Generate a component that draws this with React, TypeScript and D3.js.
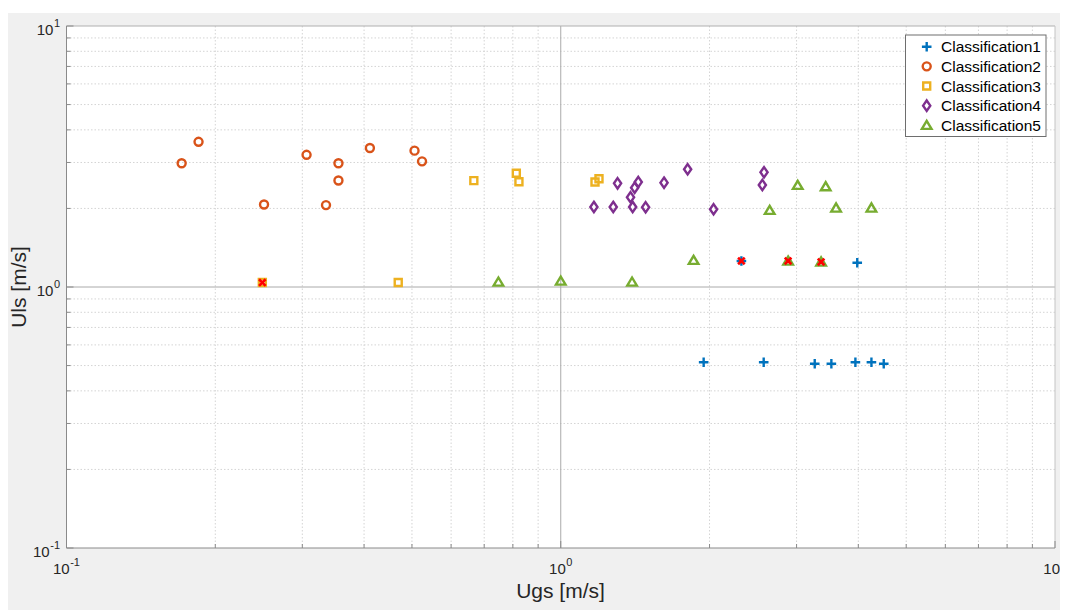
import React from "react";
import * as d3 from "d3";

// Gas / liquid superficial velocities per flow-pattern class
const class1Ugs = [2.32, 3.98, 1.946, 2.574, 3.265, 3.528, 3.946, 4.252, 4.503];
const class1Uls = [1.258, 1.239, 0.515, 0.515, 0.508, 0.508, 0.515, 0.515, 0.508];

const class2Ugs = [0.171, 0.185, 0.251, 0.306, 0.355, 0.355, 0.335, 0.411, 0.506, 0.524];
const class2Uls = [2.98, 3.6, 2.07, 3.21, 2.98, 2.56, 2.06, 3.41, 3.33, 3.03];

const class3Ugs = [0.249, 0.469, 0.667, 0.813, 0.823, 1.173, 1.195];
const class3Uls = [1.04, 1.04, 2.555, 2.727, 2.532, 2.525, 2.6];

const class4Ugs = [1.303, 1.167, 1.277, 1.384, 1.398, 1.411, 1.435, 1.485, 1.618, 1.806, 2.038, 2.578, 2.558];
const class4Uls = [2.496, 2.026, 2.026, 2.207, 2.026, 2.401, 2.525, 2.02, 2.51, 2.825, 1.985, 2.751, 2.459];

const class5Ugs = [0.748, 1.0, 1.394, 1.857, 3.016, 3.436, 2.647, 3.606, 4.252, 2.884, 3.363];
const class5Uls = [1.045, 1.054, 1.045, 1.266, 2.453, 2.423, 1.967, 2.008, 2.008, 1.258, 1.247];

// Points flagged as misclassified (drawn as red crosses on top)
const flaggedUgs = [0.249, 2.32, 2.884, 3.363];
const flaggedUls = [1.04, 1.258, 1.258, 1.247];

const seriesNames = ["Classification1", "Classification2", "Classification3", "Classification4", "Classification5"];
const decadeTicks = [0.1, 1, 10];
const decadeExponents = ["-1", "0", "1"];

const colors = ["#0072BD", "#D95319", "#EDB120", "#7E2F8E", "#77AC30"];
const shapes = ["plus", "circle", "square", "diamond", "triangle"];

const LEFT = 66.5;
const RIGHT = 1055;
const TOP = 26;
const BOTTOM = 548;

const x = d3.scaleLog().domain([0.1, 10]).range([LEFT, RIGHT]);
const y = d3.scaleLog().domain([0.1, 10]).range([BOTTOM, TOP]);

const minorValues: number[] = [];
[0.1, 1].forEach((dec) => {
  for (let k = 2; k <= 9; k++) minorValues.push(dec * k);
});

const BASE_SIZE = 15;
const EXP_SIZE = 11;
const BASE_W = 2 * 0.556 * BASE_SIZE; // width of "10"
const expWidth = (e: string) => (e.startsWith("-") ? 0.333 + 0.556 * (e.length - 1) : 0.556 * e.length) * EXP_SIZE;

function markerPath(shape: string): string {
  switch (shape) {
    case "plus":
      return "M-4.8,0H4.8M0,-4.8V4.8";
    case "circle":
      return "M4,0A4,4 0 1,1 -4,0A4,4 0 1,1 4,0Z";
    case "square":
      return "M-3.5,-3.5H3.5V3.5H-3.5Z";
    case "diamond":
      return "M0,-5.2L3.6,0L0,5.2L-3.6,0Z";
    case "triangle":
      return "M0,-4.5L4.8,3.6L-4.8,3.6Z";
    case "x":
      return "M-3.3,-3.3L3.3,3.3M3.3,-3.3L-3.3,3.3";
    default:
      return "";
  }
}

function Marker({ cx, cy, shape, color }: { cx: number; cy: number; shape: string; color: string }) {
  return (
    <path
      d={markerPath(shape)}
      transform={`translate(${cx},${cy})`}
      fill="none"
      stroke={color}
      strokeWidth={2.4}
      strokeLinejoin="miter"
    />
  );
}

function PowerLabel({ left, base, exp }: { left: number; base: number; exp: string }) {
  return (
    <g fill="#262626">
      <text x={left} y={base} fontSize={BASE_SIZE}>10</text>
      <text x={left + BASE_W + 0.5} y={base - 8} fontSize={EXP_SIZE}>{exp}</text>
    </g>
  );
}

export default function App() {
  const allUgs = [class1Ugs, class2Ugs, class3Ugs, class4Ugs, class5Ugs];
  const allUls = [class1Uls, class2Uls, class3Uls, class4Uls, class5Uls];
  const font = "'Liberation Sans', Arial, Helvetica, sans-serif";

  return (
    <svg width={1060} height={602} style={{ display: "block" }} fontFamily={font}>
      <g transform="translate(-8,-8)">
        <rect x={8} y={13} width={1056} height={597} fill="#f0f0f0" />
        <rect x={LEFT} y={TOP} width={RIGHT - LEFT} height={BOTTOM - TOP} fill="#ffffff" />

        {/* minor grid */}
        {minorValues.map((v) => (
          <line key={"gx" + v} x1={x(v)} x2={x(v)} y1={TOP} y2={BOTTOM} stroke="#d4d4d4" strokeDasharray="1.5 2" />
        ))}
        {minorValues.map((v) => (
          <line key={"gy" + v} x1={LEFT} x2={RIGHT} y1={y(v)} y2={y(v)} stroke="#d4d4d4" strokeDasharray="1.5 2" />
        ))}
        {/* major grid */}
        <line x1={x(1)} x2={x(1)} y1={TOP} y2={BOTTOM} stroke="#aaaaaa" />
        <line x1={LEFT} x2={RIGHT} y1={y(1)} y2={y(1)} stroke="#aaaaaa" />

        {/* axes box */}
        <line x1={LEFT} x2={RIGHT} y1={TOP} y2={TOP} stroke="#b0b0b0" />
        <line x1={RIGHT} x2={RIGHT} y1={TOP} y2={BOTTOM} stroke="#c4c4c4" />
        <line x1={LEFT} x2={LEFT} y1={TOP} y2={BOTTOM} stroke="#8a8a8a" />
        <line x1={LEFT} x2={RIGHT} y1={BOTTOM} y2={BOTTOM} stroke="#8a8a8a" />

        {/* ticks */}
        {minorValues.map((v) => (
          <g key={"t" + v}>
            <line x1={LEFT} x2={LEFT + 4} y1={y(v)} y2={y(v)} stroke="#8a8a8a" />
            <line x1={x(v)} x2={x(v)} y1={BOTTOM} y2={BOTTOM - 4} stroke="#8a8a8a" />
          </g>
        ))}
        {decadeTicks.map((v) => (
          <g key={"T" + v}>
            <line x1={LEFT} x2={LEFT + 7} y1={y(v)} y2={y(v)} stroke="#8a8a8a" />
            <line x1={x(v)} x2={x(v)} y1={BOTTOM} y2={BOTTOM - 7} stroke="#8a8a8a" />
          </g>
        ))}

        {/* tick labels */}
        {decadeTicks.map((v, i) => {
          const w = BASE_W + 0.5 + expWidth(decadeExponents[i]);
          return <PowerLabel key={"yl" + v} left={60 - w} base={y(v) + 8.5} exp={decadeExponents[i]} />;
        })}
        {decadeTicks.map((v, i) => {
          const w = BASE_W + 0.5 + expWidth(decadeExponents[i]);
          return <PowerLabel key={"xl" + v} left={x(v) - w / 2} base={573.5} exp={decadeExponents[i]} />;
        })}

        {/* axis titles */}
        <text x={560.5} y={598} textAnchor="middle" fontSize={21} fill="#262626">Ugs [m/s]</text>
        <text transform={`translate(26,${(TOP + BOTTOM) / 2}) rotate(-90)`} textAnchor="middle" fontSize={21} fill="#262626">
          Uls [m/s]
        </text>

        {/* data */}
        {allUgs.map((xs, s) =>
          xs.map((u, i) => (
            <Marker key={`m${s}-${i}`} cx={x(u)} cy={y(allUls[s][i])} shape={shapes[s]} color={colors[s]} />
          ))
        )}
        {flaggedUgs.map((u, i) => (
          <path
            key={"f" + i}
            d={markerPath("x")}
            transform={`translate(${x(u)},${y(flaggedUls[i])})`}
            stroke="#ff0000"
            strokeWidth={2.6}
            fill="none"
          />
        ))}

        {/* legend */}
        <rect x={905.5} y={35} width={140.5} height={101.5} fill="#ffffff" stroke="#6e6e6e" />
        {seriesNames.map((name, i) => {
          const ly = 46.7 + i * 19.65;
          return (
            <g key={name}>
              <Marker cx={926.7} cy={ly} shape={shapes[i]} color={colors[i]} />
              <text x={941} y={ly + 5.5} fontSize={15.5} fill="#000000">{name}</text>
            </g>
          );
        })}
      </g>
    </svg>
  );
}
